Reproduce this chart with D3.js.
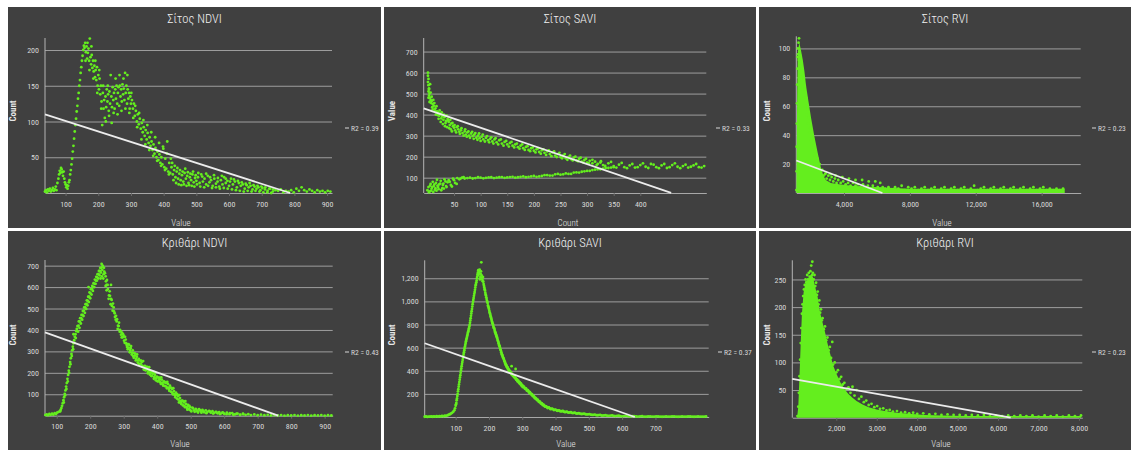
<!DOCTYPE html>
<html>
<head>
<meta charset="utf-8">
<script src="https://cdn.jsdelivr.net/npm/d3@7"></script>
<style>
  body { margin: 0; background: #fff; }
  svg { display: block; }
  text { font-family: 'Liberation Sans Narrow', 'Roboto Condensed', Roboto, sans-serif; }
</style>
</head>
<body>
<svg id="chart" width="1133" height="450"></svg>
<script>
'use strict';

// ---- data ----
const panelTitles = ['Σίτος NDVI', 'Σίτος SAVI', 'Σίτος RVI', 'Κριθάρι NDVI', 'Κριθάρι SAVI', 'Κριθάρι RVI'];
const xTitles = ['Value', 'Count', 'Value', 'Value', 'Value', 'Value'];
const yTitles = ['Count', 'Value', 'Count', 'Count', 'Count', 'Count'];
const r2Labels = ['R2 = 0.39', 'R2 = 0.33', 'R2 = 0.23', 'R2 = 0.43', 'R2 = 0.37', 'R2 = 0.23'];

const xTickValues = [
    [100, 200, 300, 400, 500, 600, 700, 800, 900],
    [50, 100, 150, 200, 250, 300, 350, 400],
    [4000, 8000, 12000, 16000],
    [100, 200, 300, 400, 500, 600, 700, 800, 900],
    [100, 200, 300, 400, 500, 600, 700],
    [2000, 3000, 4000, 5000, 6000, 7000, 8000]
];
const yTickValues = [
    [50, 100, 150, 200],
    [100, 200, 300, 400, 500, 600, 700],
    [20, 40, 60, 80, 100],
    [100, 200, 300, 400, 500, 600, 700],
    [200, 400, 600, 800, 1000, 1200],
    [50, 100, 150, 200, 250]
];

// [value, count]
const wheatNdviPoints = [
    [37,2],[40,4],[43,1],[46,5],[49,3],[52,6],[55,2],[58,4],[61,7],[64,3],[67,5],[70,9],[72,4],
    [75,14],[78,20],[80,26],[82,31],[84,28],[86,35],[88,33],[90,29],[92,24],[94,30],[96,20],[98,15],[100,12],[102,8],[104,11],[106,6],
    [108,10],[110,15],[112,18],[114,26],[116,32],[118,40],[120,48],[122,58],[124,66],[126,76],[128,86],[130,95],[132,104],[134,114],
    [136,122],[138,132],[140,140],[142,150],[144,158],[146,168],[148,176],[150,185],
    [152,192],[154,200],[156,206],[158,203],[160,210],[162,197],[164,205],[166,188],[168,196],[170,202],[172,185],[174,216],[176,190],[178,180],[180,193],[182,175],
    [184,185],[186,170],[188,178],[190,162],[192,172],[194,158],[196,176],[198,150],[200,165],[202,145],[204,160],[206,138],[208,150],[210,128],[212,95],[214,140],[216,118],[218,130],[220,105],
    [222,135],[224,120],[226,145],[228,128],[230,138],[232,115],[234,142],[236,125],[238,165],[240,135],[242,120],[244,148],[246,130],[248,140],[250,118],[252,145],[254,132],[256,150],[258,125],[260,140],
    [262,148],[264,122],[266,150],[268,135],[270,145],[272,128],[274,152],[276,138],[278,146],[280,130],[282,168],[284,140],[286,150],[288,125],[290,145],[292,132],[294,140],[296,118],[298,135],[300,125],
    [303,130],[306,118],[309,125],[312,108],[315,115],[318,100],[321,110],[324,96],[327,104],[330,90],[333,98],[336,85],[339,92],[342,80],[345,88],[348,75],[351,84],[354,70],[357,78],[360,66],
    [363,72],[366,60],[369,68],[372,55],[375,63],[378,50],[381,58],[384,46],[387,54],[390,42],[393,50],[396,40],[399,62],[402,36],[405,48],[408,34],[411,72],[414,30],[417,42],[420,28],
    [424,36],[428,26],[432,32],[436,22],[440,30],[444,20],[448,27],[452,18],[456,25],[460,16],[464,28],[468,20],[472,24],[476,14],[480,22],[484,18],[488,26],[492,15],[496,21],[500,17],
    [505,22],[510,14],[515,26],[520,16],[525,20],[530,12],[535,24],[540,15],[545,18],[550,10],[555,20],[560,13],[565,16],[570,9],[575,18],[580,12],[585,22],[590,14],[595,17],[600,10],
    [606,20],[612,12],[618,16],[624,8],[630,14],[636,10],[642,12],[648,6],[654,11],[660,8],[666,10],[672,5],[678,9],[684,6],[690,8],[696,4],[702,7],
    [710,5],[718,3],[726,6],[734,2],[742,4],[750,3],[758,5],[766,1],[774,3],[782,2],[790,4],[798,1],[806,6],[814,3],[822,8],[830,4],[838,2],[846,5],[854,3],[862,1],[870,4],[878,2],[886,3],[894,1],[902,3],[910,2],
    // spread of the cloud
    [161,185],[167,210],[173,172],[179,205],[185,160],[191,185],[197,140],[203,172],[209,118],[215,150],
    [223,100],[229,150],[233,108],[241,98],[247,112],[253,160],[259,110],[265,165],[271,115],[277,160],[283,118],[289,165],[295,112],[301,140],[307,105],[313,122],[319,92],[325,112],
    [332,75],[338,102],[344,68],[350,95],[356,60],[362,85],[368,52],[374,78],[380,45],[386,70],[392,38],[398,65],[404,32],[410,55],[416,26],[422,48],
    [426,42],[430,18],[434,38],[438,14],[442,35],[446,12],[450,32],[454,11],[458,30],[462,12],[466,34],[470,10],[474,29],[478,11],[482,27],[486,10],[490,30],[494,9],[498,25],[502,12],
    [506,28],[512,9],[518,23],[524,8],[530,27],[536,10],[542,22],[548,7],[554,25],[560,8],[566,21],[572,6],[578,24],[584,7],[590,20],[596,6],
    [603,16],[609,5],[615,19],[621,4],[627,17],[633,3],[639,15],[645,2],[651,13],[657,3],[663,14],[669,2],[675,11],[681,3],[687,10],[693,2],[699,9],[705,1],[711,8],[717,1],[723,6],[729,0],[735,5]
];
const wheatNdviTrend = [[37, 110], [787, 0]];

// [count, value]  (axes swapped in this panel)
const wheatSaviPoints = [
    [1,600],[1,585],[2,570],[1,555],[2,540],[3,525],[2,510],[4,500],[3,490],[5,480],[6,470],[8,465],[7,455],[10,450],[12,442],[9,435],[15,430],[14,420],[18,415],[20,410],
    [16,400],[24,405],[22,395],[28,392],[26,382],[32,388],[30,375],[35,370],[38,380],[34,360],[40,365],[42,350],[45,358],[48,345],[50,338],[44,330],[55,340],[52,325],[58,330],[60,318],
    [63,325],[66,312],[70,320],[72,305],[75,315],[78,300],[82,310],[85,298],[88,305],[92,290],[95,300],[98,288],[102,295],[105,282],[110,290],[114,278],[118,285],[122,272],[126,282],[130,268],
    [135,278],[140,262],[145,270],[150,258],[155,265],[160,252],[165,258],[170,245],[175,252],[180,240],[185,246],[190,232],[195,240],[200,228],[205,235],[210,222],[215,230],[220,218],[225,225],[230,212],
    [235,220],[240,205],[245,212],[250,198],[255,205],[260,192],[265,198],[270,188],[275,195],[280,182],[285,190],[290,176],[295,184],[300,172],[305,180],[310,168],[315,176],[320,165],[325,172],[330,160],
    [340,168],[350,155],[360,162],[370,150],[380,158],[390,148],[400,160],[410,152],[420,165],[430,150],[440,158],[450,146],[460,160],[470,152],[480,155],[490,148],[500,158],[510,150],[520,155],
    [3,520],[5,545],[2,480],[6,505],[8,485],[4,460],[11,470],[13,455],[10,425],[17,440],[19,398],[23,420],[21,380],[27,410],[25,365],[31,400],[29,355],[36,395],[33,345],[39,372],
    [37,340],[43,375],[41,335],[47,360],[46,320],[51,350],[54,315],[57,345],[61,308],[64,335],[68,300],[71,330],[74,295],[77,320],[80,290],[84,318],[87,285],[90,312],[94,280],[97,310],
    [100,275],[104,305],[108,272],[112,298],[116,268],[120,292],[124,262],[128,288],[133,258],[138,282],[143,252],[148,275],[153,248],[158,270],[163,244],[168,262],[173,238],[178,258],[183,232],[188,250],
    [193,226],[198,244],[203,220],[208,240],[213,214],[218,235],[223,208],[228,230],[233,202],[238,225],[243,198],[248,218],[253,192],[258,212],[263,185],[268,205],[273,182],[278,200],[283,178],[288,195],
    [293,172],[298,190],[303,168],[310,185],[318,160],[326,178],[334,156],[345,175],[355,148],[365,170],[375,145],[385,165],[395,150],[405,168],[415,146],[425,162],[435,145],[445,165],[455,150],[465,168],
    [475,145],[485,162],[495,152],[505,165],[515,148],
    // lower branch
    [0,40],[2,55],[4,35],[6,70],[8,48],[10,80],[12,60],[14,42],[16,75],[18,90],[20,55],[22,68],[25,85],[28,50],[30,72],[32,92],[35,60],[38,78],[40,88],[44,65],
    [48,95],[52,75],[56,98],[60,92],[65,100],[70,96],[75,98],[80,100],[90,98],[100,100],[110,99],[120,102],[130,100],[140,103],[150,101],[160,104],[170,102],[180,106],[190,104],[200,108],
    [210,106],[220,112],[230,110],[240,116],[250,114],[260,120],[270,118],[280,125],[290,128],[300,132],[310,136],[320,140],[330,143],[340,146],[350,150],
    [3,30],[5,62],[7,38],[9,55],[11,32],[13,68],[15,50],[17,38],[19,62],[21,45],[24,72],[26,40],[29,65],[31,48],[34,82],[36,55],[42,80],[46,58],[50,88],[55,70],
    [62,95],[68,102],[85,96],[95,102],[105,97],[115,101],[125,98],[135,102],[145,99],[155,103],[165,100],[175,104],[185,102],[195,106],[205,104],[215,108],[225,112],[235,110],[245,118],[255,116],
    [265,118],[275,124],[285,124],[295,130],[305,132],[315,138],[325,140],[335,146],[345,148]
];
const wheatSaviTrend = [[-7, 430], [458, 28]];

// [value, count]
const wheatRviMass = [
    [1105,0],[1130,30],[1160,70],[1190,95],[1230,100],[1290,104],[1400,98],[1500,92],[1600,84],[1700,74],[1850,63],[2000,52],
    [2190,40],[2400,28],[2590,18],[2750,12],[2900,9],[3200,7],[3700,6],[4500,5],[6000,4],[8000,3],[12000,3],[17400,3]
];
const wheatRviPoints = [
    [1110,2],[1120,15],[1130,32],[1140,48],[1150,62],[1160,75],[1170,86],[1180,94],[1200,100],[1220,96],[1240,104],[1260,92],[1270,107],[1290,98],[1310,88],[1340,95],[1370,82],[1400,90],[1430,78],[1460,86],
    [1500,72],[1540,80],[1580,66],[1620,74],[1660,60],[1700,66],[1740,54],[1780,58],[1820,48],[1860,52],[1900,42],[1950,45],[2000,36],[2050,38],[2100,30],[2150,33],[2200,26],[2260,28],[2320,22],[2380,24],
    [2450,18],[2520,20],[2600,15],[2680,16],[2760,12],[2850,13],[2950,10],[3050,12],[3150,9],[3250,11],[3350,8],[3450,10],[3550,7],[3650,9],[3800,7],[3950,8],[4100,6],[4250,7],[4400,5],[4550,7],
    [4700,5],[4850,6],[5000,4],[5150,6],[5300,4],[5450,5],[5600,3],[5750,5],[5900,3],[6050,4],[6200,3],[6350,4],
    [2900,14],[3200,13],[3500,12],[3900,11],[4300,10],[4700,9],[5100,9],[5500,8],[5900,8],[6200,7],
    [6500,3],[6700,4],[6900,2],[7100,4],[7300,3],[7500,5],[7700,2],[7900,4],[8100,3],[8300,4],[8500,2],[8700,3],[8900,4],[9100,2],[9300,3],[9500,4],[9700,2],[9900,3],[10100,4],[10300,2],
    [10500,3],[10700,4],[10900,2],[11100,3],[11300,4],[11500,2],[11700,3],[11900,5],[12100,2],[12300,3],[12500,4],[12700,2],[12900,3],[13100,4],[13300,2],[13500,3],[13700,4],[13900,2],[14100,3],[14300,4],
    [14500,2],[14700,3],[14900,4],[15100,2],[15300,3],[15500,4],[15700,2],[15900,3],[16100,4],[16300,2],[16500,3],[16700,2],[16900,3],[17100,2],[17300,3]
];
const wheatRviTrend = [[1105, 22.5], [6330, 0]];

const barleyNdviPoints = [
    [66,3],[70,6],[74,2],[78,8],[82,4],[86,10],[90,5],[94,12],[98,8],[102,15],[106,18],[110,20],
    [110,22],[112,28],[114,36],[116,46],[118,58],[120,72],[122,86],[124,102],[126,118],[128,136],[130,152],[132,172],[134,190],[136,210],[138,228],[140,250],[142,268],[144,288],[146,305],[148,322],
    [150,338],[152,352],[154,368],[156,380],[158,395],[160,405],[162,418],[164,392],[166,440],[168,410],[170,455],[172,430],[174,470],[176,448],[178,488],[180,465],[182,505],[184,480],[186,520],[188,498],
    [190,538],[192,515],[194,555],[196,530],[198,575],[200,548],[202,590],[204,565],[206,605],[208,582],[210,618],[212,600],[214,635],[216,615],[218,648],[220,630],[222,660],[224,640],[226,675],[228,655],
    [230,690],[232,668],[234,708],[236,680],[238,695],[240,660],[242,672],[150,380],[195,600],[262,610],
    [121,62],[125,95],[129,125],[133,160],[137,200],[141,240],[145,278],[149,310],[153,340],[157,362],[161,395],[165,420],[169,440],[173,455],[177,470],[181,490],[185,505],[189,522],[193,535],[197,555],
    [201,570],[205,590],[209,600],[213,615],[217,630],[221,645],[225,660],[229,675],[233,690],[237,700],[235,650],[231,640],[241,690],[239,640],[246,650],[249,610],
    [244,665],[247,627],[250,633],[253,591],[256,561],[259,559],[262,545],[265,512],[268,523],[271,486],[274,461],[277,466],[280,450],[283,420],[286,434],[289,400],[292,378],[295,387],[298,380],[301,350],
    [304,368],[307,338],[310,321],[313,334],[316,331],[319,306],[322,325],[325,294],[328,278],[331,292],[334,290],[337,266],[340,286],[343,258],[346,242],[349,257],[352,257],[355,234],[358,255],[361,228],
    [364,213],[367,228],[370,228],[373,205],[376,226],[379,200],[382,186],[385,202],[388,202],[391,180],[394,202],[397,176],[400,162],[403,178],[406,178],[409,156],[412,179],[415,153],[418,140],[421,156],
    [424,157],[427,136],[430,158],[433,131],[436,116],[439,131],[442,130],[445,107],[448,128],[451,101],[454,86],[457,100],[460,99],[463,75],[466,96],[469,69],[472,54],[475,69],[478,68],[481,46],
    [484,68],[487,41],[490,28],[493,45],[496,46],[499,26],
    [246,605],[249,585],[252,610],[255,545],[258,580],[261,520],[264,540],[267,490],[270,505],[273,478],[276,448],[279,440],[282,405],[285,418],[288,392],[291,395],[294,365],[297,366],[300,372],[303,340],
    [306,355],[309,330],[312,310],[315,318],[318,296],[321,315],[324,285],[327,305],[330,270],[333,280],[336,258],[339,275],[342,248],[345,265],[348,240],[351,242],[354,250],[357,228],[360,215],[363,232],
    [366,212],[369,222],[372,198],[375,210],[378,192],[381,208],[384,185],[387,195],[390,172],[393,190],[396,165],[399,182],[402,160],[405,165],[408,170],[411,148],[414,168],[417,145],[420,160],[423,138],
    [426,152],[429,128],[432,148],[435,125],[438,140],[441,112],[444,125],[447,100],[450,115],[453,95],[456,108],[459,80],[462,92],[465,62],[468,82],[471,58],[474,70],[477,48],[480,62],[483,40],
    [486,55],[489,36],[492,50],[495,30],[498,40],[502,20],[507,34],[512,18],[517,28],[522,15],[527,26],[532,14],[537,22],[547,12],[557,20],[567,10],[577,16],[587,8],[597,13],[607,7],
    [617,12],[627,5],[637,9],[647,4],[657,7],
    [505,38],[510,25],[515,32],[520,20],[525,30],[530,22],[535,27],[540,16],[545,25],[550,18],[555,22],[560,14],[565,21],[570,13],[575,18],[580,11],[585,17],[590,10],[595,15],[600,9],
    [608,14],[616,7],[624,12],[632,6],[640,10],[648,5],[656,9],[664,4],[672,7],[680,3],[690,6],[700,2],[710,5],[720,2],[730,4],[740,1],[750,3],[760,1],[770,3],[780,0],
    [790,2],[800,1],[810,3],[820,0],[830,2],[840,1],[850,3],[860,0],[870,2],[880,1],[890,3],[900,0],[910,2],[920,1]
];
const barleyNdviTrend = [[65, 389], [761, 0]];

const barleySaviPoints = [
    [7,2],[11,5],[15,1],[19,4],[23,3],[27,6],[31,2],[35,5],[39,3],[43,7],[47,4],[51,8],[55,5],[59,9],[63,6],[67,11],[71,9],[75,14],[78,18],[81,22],
    [84,26],[87,32],[90,38],[93,46],[96,58],[98,75],[100,98],[102,122],[104,160],[106,200],[108,240],[110,282],[112,322],[114,362],[116,402],[118,440],[120,475],[122,510],[124,545],[126,578],
    [128,610],[130,640],[132,668],[134,692],[136,718],[138,742],[140,768],[142,796],[144,835],[146,875],[148,915],[150,955],[152,995],[154,1030],[156,1065],[158,1100],[160,1140],[162,1165],[164,1200],[166,1235],
    [168,1270],[170,1245],[172,1275],[174,1210],[176,1260],[177,1338],[178,1225],[180,1190],[182,1210],[184,1150],[186,1120],
    [101,110],[103,145],[105,182],[107,222],[109,262],[111,302],[113,342],[115,382],[117,420],[119,458],[121,492],[123,528],[125,560],[127,595],[129,625],[131,655],[133,680],[135,705],[137,730],[139,755],
    [141,782],[143,815],[145,855],[147,895],[149,935],[151,975],[153,1012],[155,1048],[157,1082],[159,1120],[161,1150],[163,1180],[165,1215],[167,1250],[169,1230],[171,1262],[173,1190],[175,1240],[179,1205],[181,1175],
    [183,1170],[185,1135],
    [188,1095],[190,1060],[192,1035],[194,1005],[196,985],[198,955],[200,935],[202,905],[204,885],[206,860],[208,840],[210,815],[212,800],[214,775],[216,765],[218,740],[220,725],[222,705],[224,690],[226,665],
    [228,650],[230,625],[232,612],[234,588],[236,572],[238,548],[240,535],[242,515],[244,505],[246,485],[248,475],[250,455],[252,448],[254,432],[256,428],[258,412],[260,408],[262,395],[264,392],[266,378],
    [268,375],[270,362],[272,365],[274,350],[276,352],[278,338],[280,336],[282,322],[284,326],[286,308],[288,314],[290,296],[292,302],[294,284],[296,290],[298,270],[300,276],[302,258],[305,262],[308,244],
    [311,248],[314,228],[317,232],[320,212],[323,215],[326,196],[329,198],[332,180],[335,180],[338,162],[341,164],[344,146],[347,148],[350,130],[353,132],[356,116],[359,118],[362,102],[365,104],[368,90],
    [372,92],[376,78],[380,82],[385,68],[390,72],[395,60],[400,64],[405,54],[410,58],[416,48],[422,52],[428,42],[434,46],[440,38],[446,42],[452,34],[458,38],[464,30],[470,33],[478,26],
    [486,29],[494,22],[502,25],[510,18],[518,21],[526,15],[534,18],[542,12],[550,15],[560,10],[570,13],[580,8],[590,11],[600,6],[612,9],[624,5],[636,8],[648,4],[660,7],[672,3],
    [684,6],[696,3],[708,5],[720,2],[732,5],[744,3],[756,6],[768,2],[780,5],[792,3],[804,6],[816,2],[828,5],[840,3],[852,5],[268,440],[280,415],
    [187,1105],[189,1075],[191,1050],[193,1020],[195,995],[197,965],[199,945],[201,918],[203,895],[205,872],[207,850],[209,826],[211,808],[213,788],[215,770],[217,752],[219,732],[221,715],[223,698],[225,678],
    [227,658],[229,638],[231,618],[233,600],[235,580],[237,560],[239,542],[241,525],[243,510],[245,495],[247,480],[249,465],[251,452],[253,440],[255,430],[257,420],[259,410],[261,400],[263,394],[265,385],
    [267,376],[269,370],[271,364],[273,356],[275,352],[277,344],[279,337],[281,330],[283,324],[285,316],[287,311],[289,304],[291,299],[293,292],[295,286],[297,280],[299,273],[301,266],[304,260],[307,252],
    [310,246],[313,236],[316,230],[319,222],[322,214],[325,204],[328,198],[331,188],[334,180],[337,170],[340,163],[343,154],[346,147],[349,138],[352,131],[355,124],[358,117],[361,110],[364,103],[367,96],
    [370,92],[374,85],[378,80],[383,75],[388,70],[393,66],[398,62],[403,58],[408,56],[413,52],[419,50],[425,46],[431,44],[437,40],[443,40],[449,36],[455,36],[461,32],[467,31],[474,28],
    [482,27],[490,24],[498,23],[506,20],[514,19],[522,16],[530,17],[538,13],[546,14],[555,11],[565,12],[575,9],[585,10],[595,7],[606,8],[618,6],[630,7],[642,5],[654,6],[666,4],
    [678,5],[690,4],[702,5],[714,3],[726,4],[738,4],[750,5],[762,3],[774,4],[786,4],[798,5],[810,3],[822,4],[834,4],[846,3]
];
const barleySaviTrend = [[7, 638], [638, 0]];

const barleyRviMass = [
    [1030,0],[1060,20],[1090,75],[1120,135],[1150,188],[1190,226],[1240,245],[1300,250],[1360,258],[1420,255],[1480,236],[1540,218],[1600,190],[1660,172],[1720,155],[1780,135],[1850,115],
    [1920,95],[2000,80],[2100,64],[2200,52],[2300,43],[2400,36],[2500,30],[2650,24],[2800,19],[3000,15],[3200,12],[3500,9],[3800,7],[4200,5],[4600,4],[5200,3],[6500,3],[8050,3]
];
const barleyRviPoints = [
    [1040,3],[1060,20],[1075,45],[1090,75],[1105,105],[1120,135],[1135,162],[1150,188],[1165,205],[1180,220],[1200,232],[1220,240],[1240,250],[1260,245],[1280,258],[1300,250],[1320,262],[1340,255],[1360,265],[1380,275],
    [1400,258],[1407,282],[1420,262],[1440,250],[1460,258],[1480,238],[1500,244],[1520,222],[1540,228],[1560,205],[1580,212],[1600,190],[1620,196],[1640,176],[1660,180],[1690,160],[1720,165],[1750,140],[1780,145],[1810,122],
    [1840,128],[1870,108],[1900,137],[1920,96],[1960,100],[2000,82],[2040,86],[2080,70],[2120,74],[2160,60],[2200,63],[2250,52],[2300,55],[2350,45],[2400,56],[2450,40],[2500,50],[2560,34],[2620,38],[2680,28],
    [2740,31],[2800,23],[2870,25],[2940,19],[3010,21],[3080,16],[3160,17],[3240,13],[3320,14],[3400,11],[3500,12],[3600,9],[3700,10],[3800,8],[3900,9],[4000,7],[4150,8],[4300,6],[4450,7],[4600,5],
    [4750,6],[4900,5],[5050,5],[5200,4],[5350,5],[5500,4],[5650,5],[5800,3],[5950,4],[6100,3],[6250,4],[6400,3],[6550,4],[6700,3],[6850,4],[7000,2],[7150,4],[7300,3],[7450,4],[7600,2],
    [7750,4],[7900,3],[8050,4]
];
const barleyRviTrend = [[912, 70], [6312, 0]];

// ---- layout ----
const colX = [8, 384, 759];
const colW = [373, 372, 372];
const rowY = [7, 231];
const rowH = 221;

const panels = [
    { col: 0, row: 0, points: wheatNdviPoints, trend: wheatNdviTrend, mass: null,
      xDomain: [37, 915], yDomain: [0, 214], plot: { l: 37, r: 324, t: 33, b: 186 }, xTitleX: 173, yTitleX: 5, legendX: 337 },
    { col: 1, row: 0, points: wheatSaviPoints, trend: wheatSaviTrend, mass: null,
      xDomain: [-7, 524], yDomain: [27, 755], plot: { l: 39.7, r: 322.3, t: 33, b: 186 }, xTitleX: 184, yTitleX: 7.5, legendX: 332 },
    { col: 2, row: 0, points: wheatRviPoints, trend: wheatRviTrend, mass: wheatRviMass,
      xDomain: [1105, 18370], yDomain: [0, 107], plot: { l: 37.3, r: 321.7, t: 31.3, b: 186 }, xTitleX: 183, yTitleX: 7.5, legendX: 333 },
    { col: 0, row: 1, points: barleyNdviPoints, trend: barleyNdviTrend, mass: null,
      xDomain: [65, 924], yDomain: [0, 717], plot: { l: 37, r: 324.7, t: 31, b: 184.7 }, xTitleX: 172, yTitleX: 5, legendX: 337 },
    { col: 1, row: 1, points: barleySaviPoints, trend: barleySaviTrend, mass: null,
      xDomain: [7, 860], yDomain: [0, 1338], plot: { l: 40.7, r: 324.7, t: 31.3, b: 186 }, xTitleX: 182, yTitleX: 7.5, legendX: 334 },
    { col: 2, row: 1, points: barleyRviPoints, trend: barleyRviTrend, mass: barleyRviMass,
      xDomain: [912, 8082], yDomain: [0, 281], plot: { l: 33.3, r: 323.3, t: 31.3, b: 186.7 }, xTitleX: 182, yTitleX: 7.5, legendX: 333 }
];

const svg = d3.select('#chart');
const fmt = d3.format(',');
const green = '#64ee1e';

panels.forEach((p, i) => {
    const g = svg.append('g')
        .attr('transform', `translate(${colX[p.col]},${rowY[p.row]})`);

    g.append('rect')
        .attr('width', colW[p.col])
        .attr('height', rowH)
        .attr('fill', '#404040');

    const x = d3.scaleLinear().domain(p.xDomain).range([p.plot.l, p.plot.r]);
    const y = d3.scaleLinear().domain(p.yDomain).range([p.plot.b, p.plot.t]);

    // horizontal gridlines + y tick labels
    g.append('g')
        .attr('transform', `translate(${p.plot.l},0)`)
        .call(d3.axisLeft(y)
            .tickValues(yTickValues[i])
            .tickSize(-(p.plot.r - p.plot.l))
            .tickPadding(6)
            .tickFormat(fmt))
        .call(s => {
            s.select('.domain').remove();
            s.selectAll('line').attr('stroke', '#9d9d9d').attr('stroke-width', 1);
            s.selectAll('text').attr('fill', '#d8d8d8').style('font-size', '8px');
        });

    // x axis
    g.append('g')
        .attr('transform', `translate(0,${p.plot.b})`)
        .call(d3.axisBottom(x)
            .tickValues(xTickValues[i])
            .tickSize(3)
            .tickSizeOuter(0)
            .tickPadding(5)
            .tickFormat(fmt))
        .call(s => {
            s.select('.domain').attr('stroke', '#a8a8a8');
            s.selectAll('line').attr('stroke', '#6a6a6a');
            s.selectAll('text').attr('fill', '#d8d8d8').style('font-size', '8px');
        });

    // y axis line
    g.append('line')
        .attr('x1', p.plot.l).attr('x2', p.plot.l)
        .attr('y1', p.plot.t - 2).attr('y2', p.plot.b)
        .attr('stroke', '#b4b4b4')
        .attr('stroke-width', 1);

    // dense part of the cloud
    if (p.mass) {
        g.append('path')
            .datum(p.mass)
            .attr('d', d3.area()
                .x(d => x(d[0]))
                .y0(y(0))
                .y1(d => y(d[1])))
            .attr('fill', green);
    }

    g.append('g')
        .selectAll('circle')
        .data(p.points)
        .join('circle')
        .attr('cx', d => x(d[0]))
        .attr('cy', d => y(d[1]))
        .attr('r', 1.4)
        .attr('fill', green);

    // linear trend line
    g.append('path')
        .datum(p.trend)
        .attr('d', d3.line().x(d => x(d[0])).y(d => y(d[1])))
        .attr('stroke', '#ececec')
        .attr('stroke-width', 1.8)
        .attr('fill', 'none');

    // titles
    g.append('text')
        .attr('x', colW[p.col] / 2)
        .attr('y', 16)
        .attr('text-anchor', 'middle')
        .attr('fill', '#f2f2f2')
        .style('font-size', '12.5px')
        .style('font-weight', 300)
        .text(panelTitles[i]);

    g.append('text')
        .attr('x', p.xTitleX)
        .attr('y', p.row === 0 ? 219 : 216)
        .attr('text-anchor', 'middle')
        .attr('fill', '#e6e6e6')
        .style('font-size', '9px')
        .style('font-weight', 300)
        .text(xTitles[i]);

    g.append('text')
        .attr('transform', `translate(${p.yTitleX},104) rotate(-90)`)
        .attr('dy', '0.35em')
        .attr('text-anchor', 'middle')
        .attr('fill', '#e6e6e6')
        .style('font-size', '9px')
        .style('font-weight', 700)
        .text(yTitles[i]);

    // legend
    g.append('line')
        .attr('x1', p.legendX).attr('x2', p.legendX + 4)
        .attr('y1', 121).attr('y2', 121)
        .attr('stroke', '#d8d8d8');

    g.append('text')
        .attr('x', p.legendX + 6)
        .attr('y', 121)
        .attr('dy', '0.35em')
        .attr('fill', '#d8d8d8')
        .style('font-size', '7.5px')
        .text(r2Labels[i]);
});
</script>
</body>
</html>
